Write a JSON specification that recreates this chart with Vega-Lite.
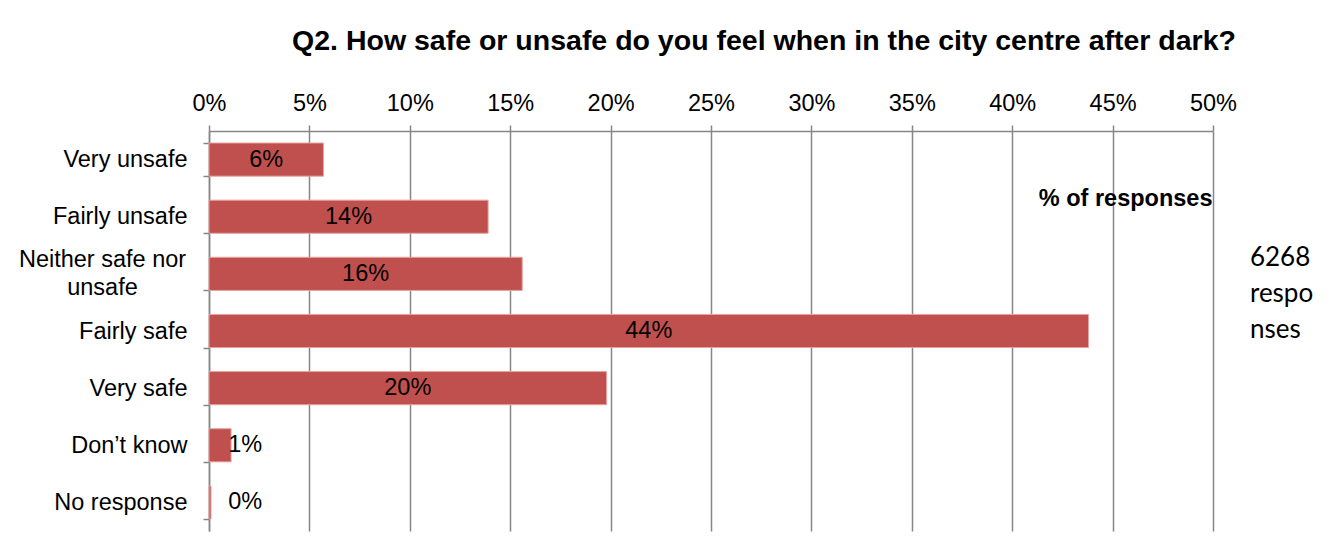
{
  "$schema": "https://vega.github.io/schema/vega-lite/v6.json",
  "autosize": "none",
  "width": 1004,
  "height": 400,
  "padding": {"left": 209, "top": 131, "right": 129, "bottom": 29},
  "background": "white",
  "title": {
    "text": "Q2. How safe or unsafe do you feel when in the city centre after dark?",
    "font": "Liberation Sans",
    "fontSize": 28.5,
    "fontWeight": "bold",
    "color": "black",
    "anchor": "middle",
    "dx": 53,
    "offset": 36
  },
  "config": {
    "view": {"stroke": null},
    "font": "Liberation Sans"
  },
  "data": {
    "values": [
      {"cat": "Very unsafe", "pct": 5.7},
      {"cat": "Fairly unsafe", "pct": 13.9},
      {"cat": "Neither safe nor unsafe", "pct": 15.6},
      {"cat": "Fairly safe", "pct": 43.8},
      {"cat": "Very safe", "pct": 19.8},
      {"cat": "Don’t know", "pct": 1.1},
      {"cat": "No response", "pct": 0.1}
    ]
  },
  "transform": [
    {"calculate": "format(datum.pct, '.0f') + '%'", "as": "lbl"},
    {"calculate": "max(datum.pct / 2, 1.8)", "as": "lblPos"}
  ],
  "encoding": {
    "y": {
      "field": "cat",
      "type": "nominal",
      "sort": null,
      "scale": {"paddingInner": 0.42, "paddingOuter": 0.21},
      "axis": {
        "title": null,
        "tickBand": "extent",
        "tickSize": 6,
        "tickColor": "#868686",
        "tickWidth": 1.5,
        "domainColor": "#868686",
        "domainWidth": 1.5,
        "labelFont": "Liberation Sans",
        "labelFontSize": 23.5,
        "labelColor": "black",
        "labelPadding": {"condition": {"test": "datum.value == 'Neither safe nor unsafe'", "value": 101}, "value": 16},
        "labelAlign": {"condition": {"test": "datum.value == 'Neither safe nor unsafe'", "value": "center"}, "value": "right"},
        "labelLineHeight": 28,
        "labelOffset": {"condition": {"test": "datum.value == 'Neither safe nor unsafe'", "value": -14}, "value": 0},
        "labelExpr": "datum.value == 'Neither safe nor unsafe' ? ['Neither safe nor', 'unsafe'] : datum.label"
      }
    }
  },
  "layer": [
    {
      "mark": {"type": "bar", "color": "#C0504D", "stroke": "#E6A3A1", "strokeWidth": 1},
      "encoding": {
        "x": {
          "field": "pct",
          "type": "quantitative",
          "scale": {"domain": [0, 50], "nice": false},
          "axis": {
            "orient": "top",
            "values": [0, 5, 10, 15, 20, 25, 30, 35, 40, 45, 50],
            "labelExpr": "datum.value + '%'",
            "labelFlush": false,
            "labelFont": "Liberation Sans",
            "labelFontSize": 23.5,
            "labelColor": "black",
            "labelPadding": 10,
            "tickSize": 6,
            "tickColor": "#868686",
            "tickWidth": 1.5,
            "domainColor": "#868686",
            "domainWidth": 1.5,
            "grid": true,
            "gridColor": "#868686",
            "gridWidth": 1.5,
            "title": "% of responses",
            "titleFont": "Liberation Sans",
            "titleFontSize": 23.5,
            "titleFontWeight": "bold",
            "titleColor": "black",
            "titleX": 1003,
            "titleY": 67,
            "titleAlign": "right",
            "titleBaseline": "middle",
            "titleAngle": 0
          }
        }
      }
    },
    {
      "mark": {"type": "text", "font": "Liberation Sans", "fontSize": 23.5, "color": "black", "align": "center", "baseline": "middle"},
      "encoding": {
        "x": {"field": "lblPos", "type": "quantitative"},
        "text": {"field": "lbl", "type": "nominal"}
      }
    },
    {
      "data": {"values": [{"note": "6268\nrespo\nnses", "xpos": 51.84, "cat": "Fairly safe"}]},
      "mark": {"type": "text", "font": "Lato", "fontSize": 26, "color": "black", "align": "left", "baseline": "middle", "lineBreak": "\n", "lineHeight": 36, "dy": -73},
      "encoding": {
        "x": {"field": "xpos", "type": "quantitative"},
        "y": {"field": "cat", "type": "nominal"},
        "text": {"field": "note", "type": "nominal"}
      }
    }
  ]
}
